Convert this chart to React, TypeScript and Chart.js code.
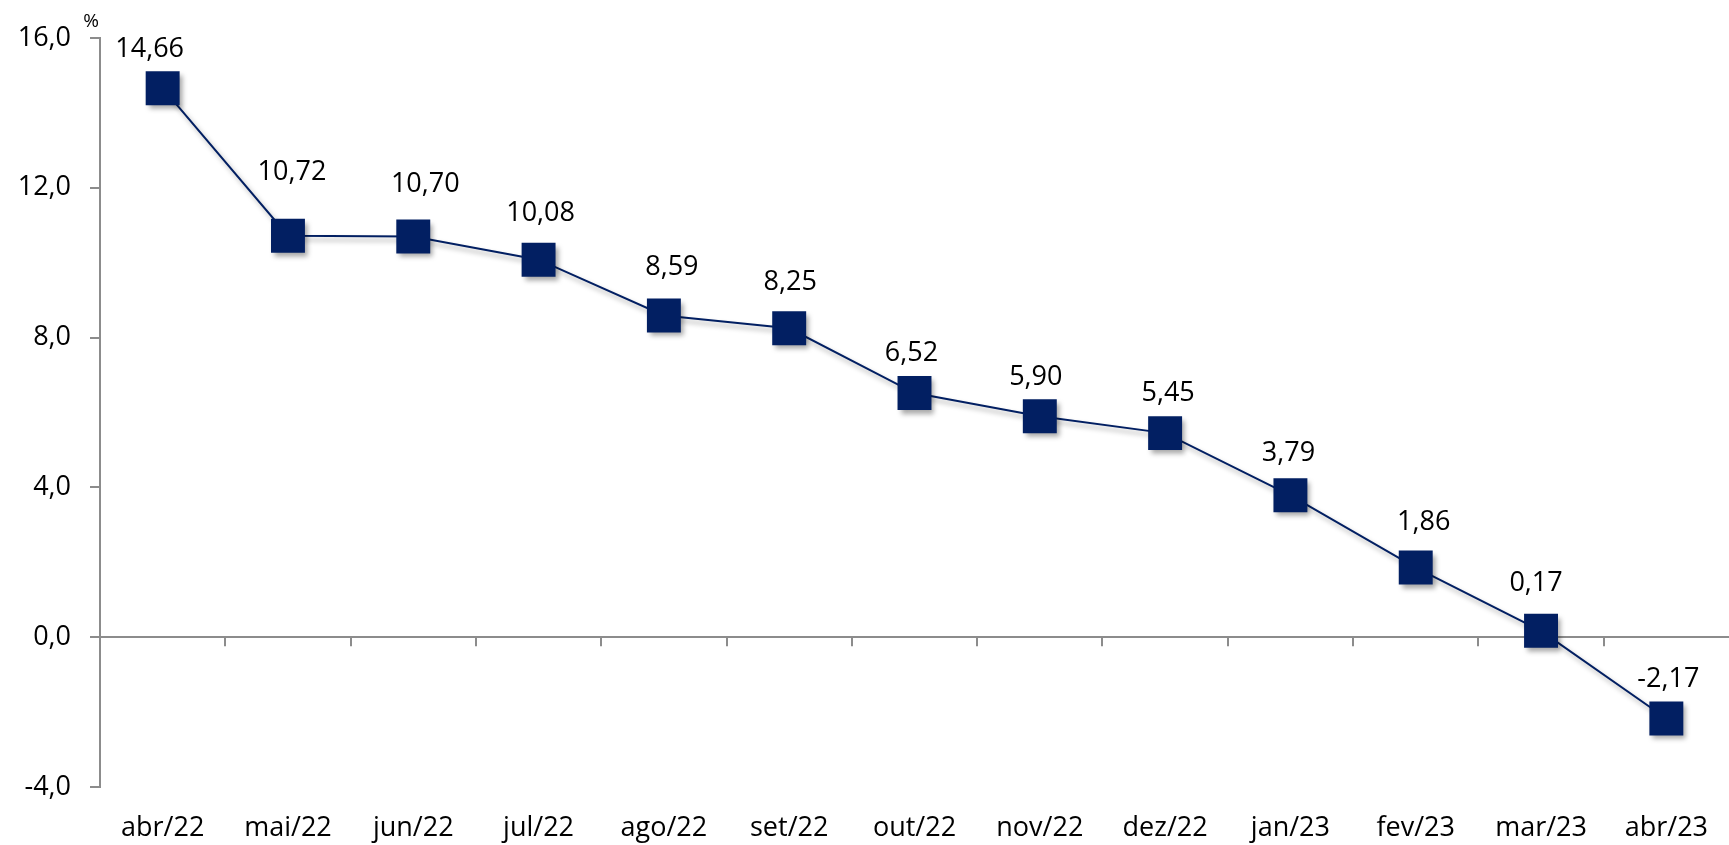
import React, { useEffect, useRef } from "react";
import { Chart, registerables } from "chart.js";

Chart.register(...registerables);

const months = [
  "abr/22", "mai/22", "jun/22", "jul/22", "ago/22", "set/22", "out/22",
  "nov/22", "dez/22", "jan/23", "fev/23", "mar/23", "abr/23",
];
const rates = [14.66, 10.72, 10.7, 10.08, 8.59, 8.25, 6.52, 5.9, 5.45, 3.79, 1.86, 0.17, -2.17];
const yMin = -4;
const yMax = 16;
const yStep = 4;

const NAVY = "#021f62";
const AXIS = "#8c8c8c";
const FONT = "'Open Sans', sans-serif";

// label nudges [dx, dy above the marker centre], as placed in the original
const labelNudge = [
  [-13, 39], [4, 63], [12, 52], [2, 46], [8, 48], [1, 46], [-3, 40],
  [-4, 39], [3, 40], [-2, 42], [8, 45], [-5, 48], [2, 39],
];

const fmt = (v: number, d: number) => v.toFixed(d).replace(".", ",");

// zero line tick marks, data labels, "%" unit, marker shadow
const extras = {
  id: "extras",
  beforeDatasetDraw(chart: any) {
    const ctx = chart.ctx;
    ctx.save();
    ctx.shadowColor = "rgba(0,0,0,0.35)";
    ctx.shadowOffsetX = 3;
    ctx.shadowOffsetY = 4;
    ctx.shadowBlur = 5;
  },
  afterDatasetDraw(chart: any) {
    chart.ctx.restore();
  },
  afterDraw(chart: any) {
    const ctx = chart.ctx;
    const x = chart.scales.x;
    const y = chart.scales.y;
    const zeroY = y.getPixelForValue(0);
    ctx.save();
    ctx.strokeStyle = AXIS;
    ctx.lineWidth = 2;
    for (let i = 1; i < months.length; i++) {
      const px = Math.round((x.getPixelForValue(i - 1) + x.getPixelForValue(i)) / 2);
      ctx.beginPath();
      ctx.moveTo(px, zeroY);
      ctx.lineTo(px, zeroY + 9);
      ctx.stroke();
    }
    ctx.fillStyle = "#000";
    ctx.font = `27px ${FONT}`;
    ctx.textAlign = "center";
    ctx.textBaseline = "middle";
    const meta = chart.getDatasetMeta(0);
    meta.data.forEach((pt: any, i: number) => {
      const [dx, dy] = labelNudge[i] || [0, 40];
      ctx.fillText(fmt(rates[i], 2), pt.x + dx, pt.y - dy);
    });
    ctx.font = `19px ${FONT}`;
    ctx.fillText("%", chart.chartArea.left - 9, chart.chartArea.top - 16);
    ctx.restore();
  },
};

const App: React.FC = () => {
  const chartRef = useRef<HTMLCanvasElement | null>(null);

  useEffect(() => {
    document.body.style.margin = "0";
    if (!chartRef.current) return;
    const ctx = chartRef.current.getContext("2d");
    if (!ctx) return;

    const chartInstance = new Chart(ctx, {
      type: "line",
      data: {
        labels: months,
        datasets: [
          {
            data: rates,
            borderColor: NAVY,
            borderWidth: 2,
            backgroundColor: NAVY,
            pointStyle: "rect",
            pointRadius: 24,
            pointBorderWidth: 0,
            pointBackgroundColor: NAVY,
            tension: 0,
          },
        ],
      },
      plugins: [extras],
      options: {
        animation: false,
        responsive: true,
        maintainAspectRatio: false,
        layout: { autoPadding: false, padding: { top: 38, right: 0, left: 0, bottom: 0 } },
        plugins: {
          legend: { display: false },
          tooltip: { enabled: false },
        },
        scales: {
          x: {
            offset: true,
            grid: { display: false, drawTicks: false },
            border: { display: false },
            ticks: {
              color: "#000",
              padding: 25,
              font: { size: 27, family: FONT },
              maxRotation: 0,
              autoSkip: false,
            },
            afterFit: (scale: any) => {
              scale.height = 58;
              scale.paddingLeft = 0;
              scale.paddingRight = 0;
            },
          },
          y: {
            min: yMin,
            max: yMax,
            grid: {
              drawOnChartArea: true,
              drawTicks: true,
              tickLength: 10,
              lineWidth: 2,
              tickColor: AXIS,
              color: (c: any) => (c.tick && c.tick.value === 0 ? AXIS : "rgba(0,0,0,0)"),
            },
            border: { display: true, color: AXIS, width: 2 },
            ticks: {
              stepSize: yStep,
              color: "#000",
              padding: 19,
              font: { size: 27, family: FONT },
              callback: (v: any) => fmt(Number(v), 1),
            },
            afterFit: (scale: any) => {
              scale.width = 100;
            },
          },
        },
      },
    });

    return () => {
      chartInstance.destroy();
    };
  }, []);

  return (
    <div style={{ width: "100vw", height: "100vh", position: "relative", background: "#fff" }}>
      <canvas ref={chartRef} />
    </div>
  );
};

export default App;
